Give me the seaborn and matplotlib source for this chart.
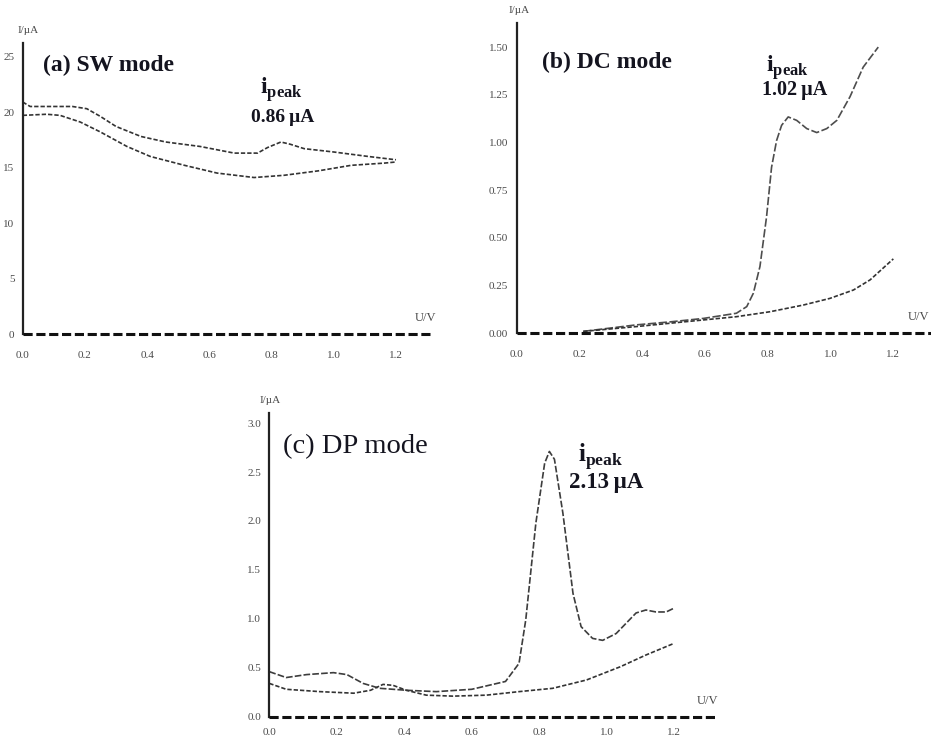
import matplotlib
matplotlib.use("Agg")
import matplotlib.pyplot as plt
import seaborn as sns
import pandas as pd

# ---- voltammogram data (potential U / V, current I / uA) ----
sw_fwd_u = [0.0, 0.024, 0.08, 0.16, 0.206, 0.25, 0.30, 0.38, 0.46, 0.57, 0.68,
            0.755, 0.787, 0.83, 0.86, 0.905, 1.0, 1.11, 1.2]
sw_fwd_i = [20.9, 20.5, 20.5, 20.5, 20.3, 19.6, 18.7, 17.8, 17.3, 16.9, 16.3,
            16.3, 16.8, 17.3, 17.1, 16.7, 16.4, 16.0, 15.7]
sw_rev_u = [0.0, 0.077, 0.12, 0.185, 0.25, 0.335, 0.41, 0.52, 0.625, 0.744,
            0.84, 0.95, 1.056, 1.163, 1.2]
sw_rev_i = [19.7, 19.8, 19.7, 19.1, 18.2, 16.9, 16.0, 15.2, 14.5, 14.1,
            14.3, 14.7, 15.2, 15.4, 15.5]

dc_fwd_u = [0.212, 0.38, 0.49, 0.595, 0.70, 0.733, 0.754, 0.775, 0.796, 0.812,
            0.828, 0.844, 0.865, 0.892, 0.924, 0.956, 0.988, 1.02, 1.062,
            1.104, 1.152]
dc_fwd_i = [0.01, 0.044, 0.06, 0.078, 0.105, 0.14, 0.21, 0.35, 0.61, 0.87,
            1.01, 1.09, 1.134, 1.116, 1.073, 1.052, 1.073, 1.116, 1.24,
            1.395, 1.50]
dc_rev_u = [0.212, 0.38, 0.595, 0.70, 0.807, 0.913, 0.998, 1.073, 1.126, 1.2]
dc_rev_i = [0.01, 0.035, 0.07, 0.087, 0.113, 0.148, 0.183, 0.227, 0.28, 0.39]

dp_fwd_u = [0.0, 0.05, 0.11, 0.19, 0.23, 0.278, 0.327, 0.406, 0.495, 0.60,
            0.70, 0.74, 0.76, 0.79, 0.816, 0.83, 0.845, 0.87, 0.90, 0.924,
            0.958, 0.988, 1.028, 1.087, 1.116, 1.146, 1.176, 1.2]
dp_fwd_i = [0.46, 0.40, 0.43, 0.45, 0.43, 0.34, 0.29, 0.27, 0.256, 0.28,
            0.36, 0.545, 0.99, 1.98, 2.59, 2.71, 2.63, 2.08, 1.26, 0.92,
            0.80, 0.78, 0.85, 1.06, 1.09, 1.07, 1.07, 1.11]
dp_rev_u = [0.0, 0.05, 0.15, 0.25, 0.30, 0.337, 0.367, 0.406, 0.465, 0.544,
            0.643, 0.74, 0.84, 0.94, 1.04, 1.116, 1.2]
dp_rev_i = [0.34, 0.28, 0.256, 0.24, 0.27, 0.33, 0.32, 0.27, 0.22, 0.21,
            0.22, 0.256, 0.29, 0.375, 0.51, 0.63, 0.75]

x_ticks = [0.0, 0.2, 0.4, 0.6, 0.8, 1.0, 1.2]
x_tick_labels = ["0.0", "0.2", "0.4", "0.6", "0.8", "1.0", "1.2"]
sw_y_ticks = [0, 5, 10, 15, 20, 25]
sw_y_labels = ["0", "5", "10", "15", "20", "25"]
dc_y_ticks = [0.0, 0.25, 0.5, 0.75, 1.0, 1.25, 1.5]
dc_y_labels = ["0.00", "0.25", "0.50", "0.75", "1.00", "1.25", "1.50"]
dp_y_ticks = [0.0, 0.5, 1.0, 1.5, 2.0, 2.5, 3.0]
dp_y_labels = ["0.0", "0.5", "1.0", "1.5", "2.0", "2.5", "3.0"]

mode_titles = ["(a) SW mode", "(b) DC mode", "(c) DP mode"]
peak_values = ["0.86\u2009\u00b5A", "1.02\u2009\u00b5A", "2.13\u2009\u00b5A"]

sns.set_style("white")
plt.rcParams["font.family"] = ["Liberation Serif", "DejaVu Serif"]
plt.rcParams["mathtext.fontset"] = "custom"
plt.rcParams["mathtext.rm"] = "Liberation Serif"
plt.rcParams["mathtext.bf"] = "Liberation Serif:bold"

TXT = "#14141f"
LINE = "#333333"
TICKTXT = "#4a4a4a"

fig = plt.figure(figsize=(9.31, 7.40), dpi=100)
fig.patch.set_facecolor("white")


def make_frame(df_list, rect, xmax, ymax, yticks, ylabels, xpad=9):
    ax = fig.add_axes(rect)
    for df, dash, col in df_list:
        sns.lineplot(data=df, x="U", y="I", ax=ax, sort=False, estimator=None,
                     color=col, lw=1.2, linestyle=(0, dash))
    ax.set_xlim(0, xmax)
    ax.set_ylim(0, ymax)
    ax.set_xlabel("")
    ax.set_ylabel("")
    ax.set_xticks(x_ticks)
    ax.set_xticklabels(x_tick_labels)
    ax.set_yticks(yticks)
    ax.set_yticklabels(ylabels)
    for s in ("top", "right", "bottom"):
        ax.spines[s].set_visible(False)
    ax.spines["left"].set_linewidth(1.6)
    ax.spines["left"].set_color("#222222")
    ax.tick_params(axis="both", direction="out", length=3, width=1.2,
                   color="#333333", labelsize=8, labelcolor=TICKTXT)
    ax.tick_params(axis="x", pad=xpad)
    ax.tick_params(axis="y", pad=3)
    ax.axhline(0, color="#111111", lw=2.2, ls=(0, (3.0, 1.2)), clip_on=False,
               zorder=5)
    ax.patch.set_alpha(0)
    return ax


def frame(u, i):
    return pd.DataFrame({"U": u, "I": i})


# (a) square-wave
ax_a = make_frame([(frame(sw_fwd_u, sw_fwd_i), (2.6, 1.2), LINE),
                   (frame(sw_rev_u, sw_rev_i), (2.6, 1.2), LINE)],
                  [0.0244, 0.5486, 0.441, 0.393], 1.32, 26.2,
                  sw_y_ticks, sw_y_labels)
# (b) direct current
ax_b = make_frame([(frame(dc_fwd_u, dc_fwd_i), (5.0, 1.5), "#4d4d4d"),
                   (frame(dc_rev_u, dc_rev_i), (2.6, 1.2), LINE)],
                  [0.555, 0.5496, 0.445, 0.419], 1.32, 1.625,
                  dc_y_ticks, dc_y_labels)
# (c) differential pulse
ax_c = make_frame([(frame(dp_fwd_u, dp_fwd_i), (4.0, 1.3), "#3d3d3d"),
                   (frame(dp_rev_u, dp_rev_i), (2.6, 1.2), LINE)],
                  [0.2893, 0.0315, 0.482, 0.410], 1.33, 3.1,
                  dp_y_ticks, dp_y_labels, xpad=5)

# axis captions
for ax, dx in ((ax_a, 5), (ax_b, 2), (ax_c, 1)):
    ax.annotate("I/\u00b5A", xy=(0, 1), xycoords="axes fraction",
                xytext=(dx, 13), textcoords="offset pixels",
                ha="center", va="center", fontsize=8, color=TICKTXT)
for ax, xpos in ((ax_a, 1.295), (ax_b, 1.28), (ax_c, 1.30)):
    ax.annotate("U/V", xy=(xpos, 0), xycoords="data",
                xytext=(0, 16), textcoords="offset pixels",
                ha="center", va="center", fontsize=9, color=TICKTXT)

# panel titles
ax_a.text(0.065, 24.2, mode_titles[0], fontsize=17, fontweight="bold",
          color=TXT, ha="left", va="center")
ax_b.text(0.080, 1.42, mode_titles[1], fontsize=17, fontweight="bold",
          color=TXT, ha="left", va="center")
ax_c.text(0.0405, 2.76, mode_titles[2], fontsize=20.5,
          color=TXT, ha="left", va="center")

# peak-current annotations
ipeak = r"$\mathbf{i}_{\mathbf{peak}}$"
ax_a.text(0.83, 22.0, ipeak, fontsize=17, color=TXT, ha="center", va="center")
ax_a.text(0.837, 19.55, peak_values[0], fontsize=14, fontweight="bold",
          color=TXT, ha="center", va="center")
ax_b.text(0.861, 1.393, ipeak, fontsize=17, color=TXT, ha="center", va="center")
ax_b.text(0.887, 1.273, peak_values[1], fontsize=14.5, fontweight="bold",
          color=TXT, ha="center", va="center")
ax_c.text(0.981, 2.655, ipeak, fontsize=18, color=TXT, ha="center", va="center")
ax_c.text(0.999, 2.39, peak_values[2], fontsize=16.5, fontweight="bold",
          color=TXT, ha="center", va="center")

fig.savefig("out.png", dpi=100, facecolor="white")
